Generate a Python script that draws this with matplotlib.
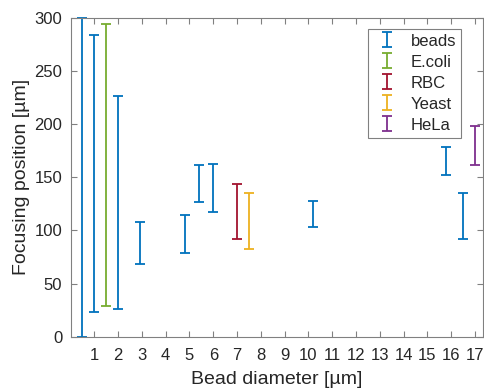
import numpy as np
import matplotlib
matplotlib.use("Agg")
import matplotlib.pyplot as plt
from matplotlib.legend_handler import HandlerErrorbar

plt.rcParams['font.family'] = ['Liberation Sans', 'DejaVu Sans']

# focusing ranges (lower, upper) in um, per bead / cell diameter
beads_x = [0.5, 1.0, 2.0, 2.9, 4.8, 5.4, 6.0, 10.2, 15.8, 16.5]
beads_lo = [0, 23, 26, 68, 79, 127, 117, 103, 152, 92]
beads_hi = [300, 284, 227, 108, 115, 162, 163, 128, 179, 135]

ecoli_x = [1.5]
ecoli_lo = [29]
ecoli_hi = [294]

rbc_x = [7.0]
rbc_lo = [92]
rbc_hi = [144]

yeast_x = [7.5]
yeast_lo = [83]
yeast_hi = [135]

hela_x = [17.0]
hela_lo = [162]
hela_hi = [198]

series = [
    ("beads", beads_x, beads_lo, beads_hi, "#0072BD"),
    ("E.coli", ecoli_x, ecoli_lo, ecoli_hi, "#77AC30"),
    ("RBC", rbc_x, rbc_lo, rbc_hi, "#A2142F"),
    ("Yeast", yeast_x, yeast_lo, yeast_hi, "#EDB120"),
    ("HeLa", hela_x, hela_lo, hela_hi, "#7E2F8E"),
]

fig = plt.figure(figsize=(4.84, 3.90), dpi=100)
ax = fig.add_axes([0.1457, 0.1367, 0.853, 0.817])

handles = []
for name, x, lo, hi, col in series:
    lo = np.array(lo, dtype=float)
    hi = np.array(hi, dtype=float)
    mid = (lo + hi) / 2
    half = (hi - lo) / 2
    h = ax.errorbar(x, mid, yerr=half, fmt='none', ecolor=col, elinewidth=1.3,
                    capsize=3.5, capthick=1.3, label=name, clip_on=False)
    handles.append(h)

ax.set_xlim(0, 17.35)
ax.set_ylim(0, 300)
ax.set_xticks(range(1, 18))
ax.set_yticks(range(0, 301, 50))

txt = '#262626'
for s in ax.spines.values():
    s.set_color('#808080')
    s.set_linewidth(0.8)
ax.tick_params(direction='in', top=True, right=True, length=4,
               color='#808080', labelcolor=txt, labelsize=12)
ax.tick_params(axis='x', pad=8)
ax.tick_params(axis='y', pad=6)

ax.set_xlabel("Bead diameter [µm]", fontsize=14, color=txt, labelpad=6)
ax.set_ylabel("Focusing position [µm]", fontsize=14, color=txt, labelpad=3)

leg = ax.legend(handles=handles, loc='upper right', bbox_to_anchor=(0.947, 0.967),
                fontsize=12, frameon=True, fancybox=False, framealpha=1,
                borderpad=0.3, handlelength=1.7, handletextpad=0.6,
                labelspacing=0.36, borderaxespad=0,
                handler_map={type(handles[0]): HandlerErrorbar(xerr_size=0.44)})
leg.get_frame().set_edgecolor('#808080')
leg.get_frame().set_linewidth(0.8)
for t in leg.get_texts():
    t.set_color(txt)

fig.savefig("out.png", dpi=100)
